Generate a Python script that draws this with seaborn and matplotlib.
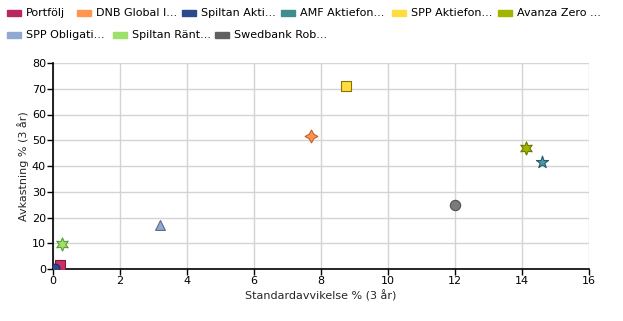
import matplotlib
matplotlib.use("Agg")
import matplotlib.pyplot as plt
import seaborn as sns
import pandas as pd
from matplotlib.patches import Rectangle

names = ["Portfölj", "DNB Global I...", "Spiltan Akti...", "AMF Aktiefon...", "SPP Aktiefon...",
         "Avanza Zero ...", "SPP Obligati...", "Spiltan Ränt...", "Swedbank Rob..."]
std_dev = [0.2, 7.7, 0.05, 14.6, 8.74, 14.13, 3.18, 0.27, 12.0]
returns = [1.5, 51.5, 0.3, 41.5, 71.0, 47.0, 17.0, 9.7, 24.9]
colors = ["#b8285e", "#ff9550", "#2a4a8c", "#3f8d8f", "#ffdc40", "#a2b400", "#90a8d2", "#9de06a", "#606060"]
faces = ["#c8306a", "#ff9550", "#2a4a8c", "#4a9aa8", "#ffdc40", "#a2b400", "#90a8d2", "#9de06a", "#7a7a7a"]
edges = ["#80183f", "#c0602a", "#1a2a5a", "#2a5a6a", "#8a7400", "#6a7a00", "#5a6a8a", "#5a9a3a", "#505050"]
markers = ["s", (4, 1, 0), "o", "*", "s", (6, 1, 0), "^", (6, 1, 0), "o"]
sizes = [55, 85, 40, 85, 50, 90, 50, 90, 55]

x_ticks = [0, 2, 4, 6, 8, 10, 12, 14, 16]
y_ticks = [0, 10, 20, 30, 40, 50, 60, 70, 80]

df = pd.DataFrame({"name": names, "x": std_dev, "y": returns})

sns.set_style("white")
plt.rcParams["font.family"] = ["DejaVu Sans"]

fig = plt.figure(figsize=(6.23, 3.21), dpi=100)
ax = fig.add_axes([53 / 623, 1 - 269 / 321, (589 - 53) / 623, (269 - 63) / 321])

for i, row in df.iterrows():
    sns.scatterplot(data=df.iloc[[i]], x="x", y="y", ax=ax, marker=markers[i], s=sizes[i],
                    color=faces[i], edgecolor=edges[i], linewidth=0.8, legend=False, zorder=3)

ax.set_xlim(0, 16)
ax.set_ylim(0, 80)
ax.set_xticks(x_ticks)
ax.set_yticks(y_ticks)
ax.grid(True, color="#d4d4d4", linewidth=1)
ax.set_axisbelow(True)
for s in ["top", "right"]:
    ax.spines[s].set_visible(False)
for s in ["left", "bottom"]:
    ax.spines[s].set_color("black")
    ax.spines[s].set_linewidth(1.2)
ax.tick_params(axis="both", which="both", direction="out", length=4, width=1,
               colors="black", labelsize=8, pad=1, left=True, bottom=True)
ax.set_xlabel("Standardavvikelse % (3 år)", fontsize=8, labelpad=3)
ax.set_ylabel("Avkastning % (3 år)", fontsize=8, labelpad=2)

# Legend (flow layout at top)
row1 = [(7, 0), (77, 1), (182, 2), (281, 3), (392, 4), (498, 5)]
row2 = [(7, 6), (113, 7), (215, 8)]
for ypix, items in [(13, row1), (35, row2)]:
    for xpix, idx in items:
        fig.patches.append(Rectangle((xpix / 623, 1 - (ypix + 3) / 321), 14 / 623, 6 / 321,
                                     transform=fig.transFigure, color=colors[idx], figure=fig))
        fig.text((xpix + 19) / 623, 1 - ypix / 321, names[idx], fontsize=8,
                 va="center", ha="left", color="black")

fig.savefig("out.png", dpi=100)
